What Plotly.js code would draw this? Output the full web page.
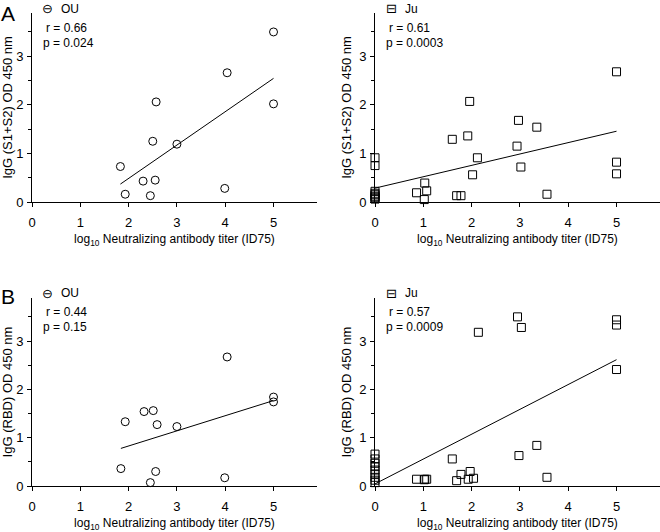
<!DOCTYPE html>
<html><head><meta charset="utf-8">
<script src="https://cdn.plot.ly/plotly-3.0.1.min.js"></script>
<style>html,body{margin:0;padding:0;background:#fff}</style>
</head><body><div id="chart" style="width:660px;height:532px"></div>
<script>
// Panel A: IgG (S1+S2) vs log10 neutralizing titer
const ouS12X = [5.00, 4.04, 5.00, 2.57, 2.50, 3.00, 1.83, 2.30, 2.55, 1.93, 2.45, 3.99];
const ouS12Y = [3.50, 2.66, 2.02, 2.06, 1.25, 1.19, 0.73, 0.43, 0.45, 0.16, 0.13, 0.28];
const juS12X = [5.00, 1.96, 2.97, 3.35, 1.92, 1.60, 2.94, 2.12, 3.02, 2.02, 5.00, 5.00, 1.03, 0.86, 1.07, 1.02, 1.69, 1.78, 3.56,
                0, 0, 0, 0, 0, 0, 0, 0, 0];
const juS12Y = [2.68, 2.07, 1.68, 1.54, 1.36, 1.29, 1.15, 0.91, 0.72, 0.56, 0.82, 0.58, 0.39, 0.19, 0.23, 0.05, 0.13, 0.13, 0.16,
                0.91, 0.75, 0.22, 0.18, 0.15, 0.12, 0.10, 0.08, 0.06];
// Panel B: IgG (RBD)
const ouRbdX = [4.04, 5.00, 5.00, 2.32, 2.51, 1.93, 2.59, 3.00, 1.84, 2.56, 2.45, 3.99];
const ouRbdY = [2.67, 1.84, 1.74, 1.54, 1.56, 1.33, 1.27, 1.23, 0.36, 0.30, 0.07, 0.17];
const juRbdX = [2.95, 3.03, 2.14, 5.00, 5.00, 5.00, 3.35, 2.98, 1.60, 1.97, 1.78, 3.56, 2.04, 1.93, 1.69, 0.86, 1.03, 1.07, 1.02,
                0, 0, 0, 0, 0, 0, 0, 0, 0];
const juRbdY = [3.50, 3.28, 3.18, 3.44, 3.33, 2.41, 0.84, 0.63, 0.56, 0.30, 0.24, 0.18, 0.16, 0.14, 0.11, 0.14, 0.14, 0.14, 0.13,
                0.66, 0.56, 0.47, 0.40, 0.33, 0.25, 0.18, 0.12, 0.07];

const xTitle = 'log<sub>10</sub> Neutralizing antibody titer (ID75)';
const yTitleS12 = 'IgG (S1+S2) OD 450 nm';
const yTitleRbd = 'IgG (RBD) OD 450 nm';
const groupOU = 'OU', groupJu = 'Ju';
const symOU = '\u2296', symJu = '\u229F';
const statsText = [['r = 0.66','p = 0.024'],['r = 0.61','p = 0.0003'],['r = 0.44','p = 0.15'],['r = 0.57','p = 0.0009']];
const panelLetters = ['A','B'];

function fit(x, y){
  const n = x.length;
  let sx=0, sy=0, sxx=0, sxy=0;
  for(let i=0;i<n;i++){ sx+=x[i]; sy+=y[i]; sxx+=x[i]*x[i]; sxy+=x[i]*y[i]; }
  const b = (n*sxy - sx*sy)/(n*sxx - sx*sx);
  const a = (sy - b*sx)/n;
  const x0 = Math.min(...x), x1 = Math.max(...x);
  return {x:[x0,x1], y:[a+b*x0, a+b*x1]};
}

const FONT = 'Liberation Sans, Arial, sans-serif';
const W = 660, H = 532;
function px(v){ return v/W; }
function py(v){ return 1 - v/H; }

function pts(x, y, sym, xa, ya){
  return {x:x, y:y, xaxis:xa, yaxis:ya, type:'scatter', mode:'markers', cliponaxis:false, showlegend:false,
    marker:{symbol:sym, size:8, color:'black', line:{width:1, color:'black'}}, hoverinfo:'x+y'};
}
function line(x, y, xa, ya){
  const f = fit(x, y);
  return {x:f.x, y:f.y, xaxis:xa, yaxis:ya, type:'scatter', mode:'lines', cliponaxis:false, showlegend:false,
    line:{color:'black', width:1}, hoverinfo:'skip'};
}

const data = [
  pts(ouS12X, ouS12Y, 'circle-open', 'x', 'y'), line(ouS12X, ouS12Y, 'x', 'y'),
  pts(juS12X, juS12Y, 'square-open', 'x2', 'y2'), line(juS12X, juS12Y, 'x2', 'y2'),
  pts(ouRbdX, ouRbdY, 'circle-open', 'x3', 'y3'), line(ouRbdX, ouRbdY, 'x3', 'y3'),
  pts(juRbdX, juRbdY, 'square-open', 'x4', 'y4'), line(juRbdX, juRbdY, 'x4', 'y4')
];

function xax(dom, anchor){
  return {domain:dom, anchor:anchor, range:[0,5.9], tick0:0, dtick:1, showline:true, linecolor:'black', linewidth:1,
    ticks:'outside', ticklen:4, tickwidth:1, tickcolor:'black', showgrid:false, zeroline:false,
    tickfont:{size:13, color:'black'}, ticklabelstandoff:4,
    title:{text:xTitle, font:{size:12, color:'black'}, standoff:6}};
}
function yax(dom, anchor, title){
  return {domain:dom, anchor:anchor, range:[0,3.89], tick0:0, dtick:1, showline:true, linecolor:'black', linewidth:1,
    ticks:'outside', ticklen:4, tickwidth:1, tickcolor:'black', showgrid:false, zeroline:false,
    tickfont:{size:13, color:'black'}, ticklabelstandoff:1,
    minor:{dtick:0.5, tick0:0, ticks:'outside', ticklen:3, tickwidth:1, tickcolor:'black', showgrid:false},
    title:{text:title, font:{size:13, color:'black'}, standoff:4}};
}

const xL = [px(32), px(317)], xR = [px(375), 1];
const yT = [py(202), py(13)], yB = [py(486), py(298)];

const annotations = [];
function ann(text, x, y, opts){
  annotations.push(Object.assign({text:text, xref:'paper', yref:'paper', x:px(x), y:py(y), showarrow:false,
    xanchor:'left', yanchor:'middle', font:{family:FONT, size:12, color:'black'}}, opts||{}));
}
// panel letters
ann(panelLetters[0], -1, 14, {font:{family:FONT, size:21, color:'black'}});
ann(panelLetters[1], -1, 296, {font:{family:FONT, size:21, color:'black'}});
// legends: symbol + group name
const legPos = [[42, 9, groupOU, symOU], [386, 9, groupJu, symJu], [42, 293, groupOU, symOU], [386, 293, groupJu, symJu]];
legPos.forEach(p => {
  ann(p[3], p[0] + 5, p[1], {xanchor:'center', font:{family:'DejaVu Sans', size:13, color:'black'}});
  ann(p[2], p[0] + 17, p[1]);
});
// stats
const statPos = [[41, 28], [384, 28], [41, 312], [384, 312]];
statPos.forEach((p, i) => {
  ann(statsText[i][0], p[0] + 3, p[1]);
  ann(statsText[i][1], p[0], p[1] + 15);
});

const layout = {
  width:W, height:H, margin:{l:0, r:0, t:0, b:0}, paper_bgcolor:'white', plot_bgcolor:'white',
  font:{family:FONT, color:'black'}, showlegend:false,
  xaxis:xax(xL, 'y'), yaxis:yax(yT, 'x', yTitleS12),
  xaxis2:xax(xR, 'y2'), yaxis2:yax(yT, 'x2', yTitleS12),
  xaxis3:xax(xL, 'y3'), yaxis3:yax(yB, 'x3', yTitleRbd),
  xaxis4:xax(xR, 'y4'), yaxis4:yax(yB, 'x4', yTitleRbd),
  annotations:annotations
};
Plotly.newPlot('chart', data, layout, {displayModeBar:false, staticPlot:true});
</script></body></html>
